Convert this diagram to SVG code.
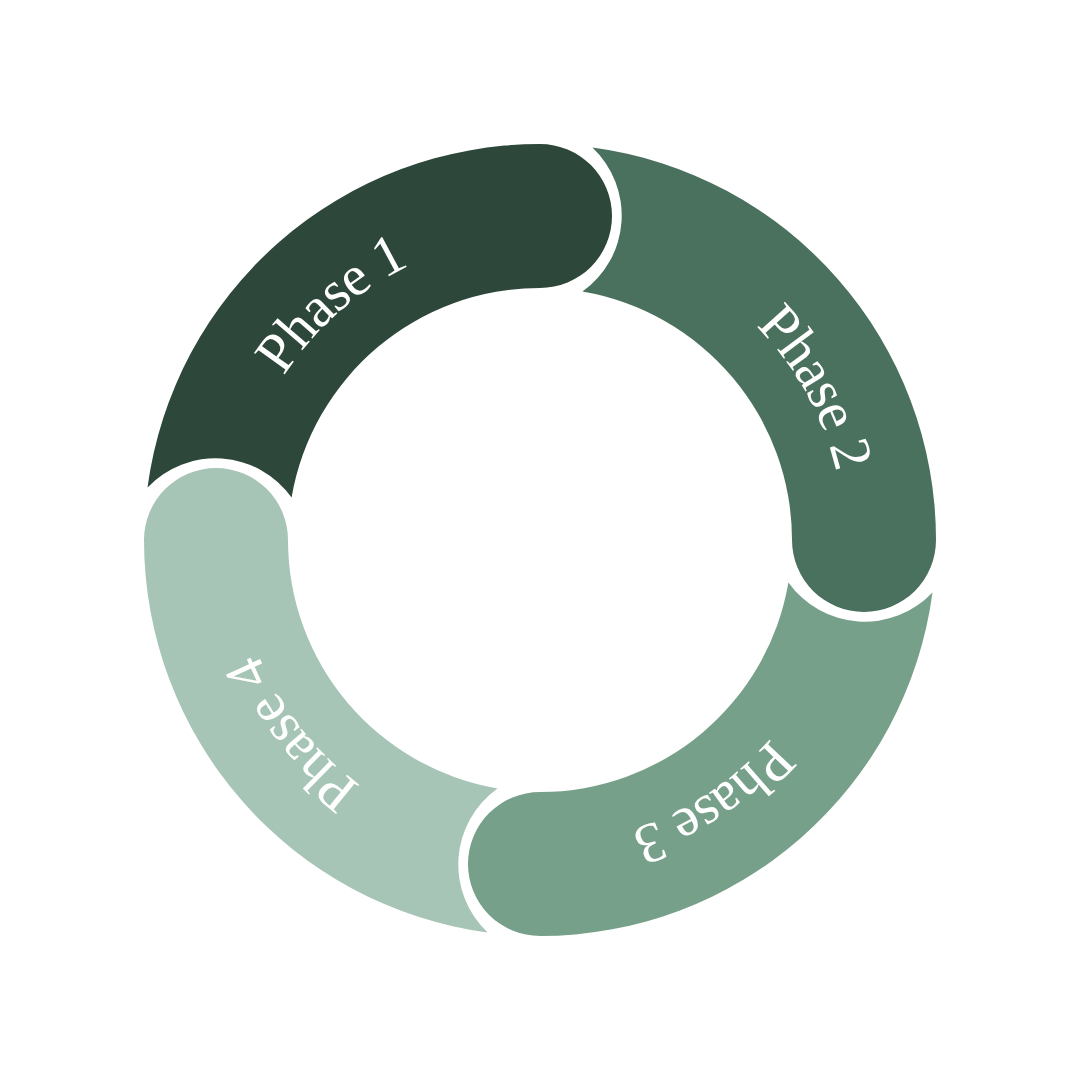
<svg xmlns="http://www.w3.org/2000/svg" xmlns:xlink="http://www.w3.org/1999/xlink" width="1080" height="1080" viewBox="0 0 1080 1080">
<style>
.lbl{font-family:"Liberation Serif","DejaVu Serif",serif;font-size:57px;letter-spacing:-1px;fill:#ffffff;}
</style>
<defs>
<path id="ring" d="M 844 540 A 304 304 0 1 1 236 540 A 304 304 0 1 1 844 540"/>
</defs>
<rect width="1080" height="1080" fill="#ffffff"/>
<g id="connectors"></g>
<g id="phase1">
<path fill="#2D473A" d="M 147.5 487.6 A 396 396 0 0 1 540 144 A 72 72 0 0 1 540 288 A 252 252 0 0 0 291.6 497.5 A 93.5 93.5 0 0 0 147.5 487.6 Z"/>
<text class="lbl"><textPath xlink:href="#ring" startOffset="1212" text-anchor="middle">Phase 1</textPath></text>
</g>
<g id="phase2">
<path fill="#4A705E" d="M 592.4 147.5 A 396 396 0 0 1 936 540 A 72 72 0 0 1 792 540 A 252 252 0 0 0 582.5 291.6 A 93.5 93.5 0 0 0 592.4 147.5 Z"/>
<text class="lbl"><textPath xlink:href="#ring" startOffset="1756" text-anchor="middle">Phase 2</textPath></text>
</g>
<g id="phase3">
<path fill="#77A08A" d="M 932.5 592.4 A 396 396 0 0 1 540 936 A 72 72 0 0 1 540 792 A 252 252 0 0 0 788.4 582.5 A 93.5 93.5 0 0 0 932.5 592.4 Z"/>
<text class="lbl"><textPath xlink:href="#ring" startOffset="300" text-anchor="middle">Phase 3</textPath></text>
</g>
<g id="phase4">
<path fill="#A6C5B6" d="M 487.6 932.5 A 396 396 0 0 1 144 540 A 72 72 0 0 1 288 540 A 252 252 0 0 0 497.5 788.4 A 93.5 93.5 0 0 0 487.6 932.5 Z"/>
<text class="lbl"><textPath xlink:href="#ring" startOffset="753" text-anchor="middle">Phase 4</textPath></text>
</g>
</svg>
